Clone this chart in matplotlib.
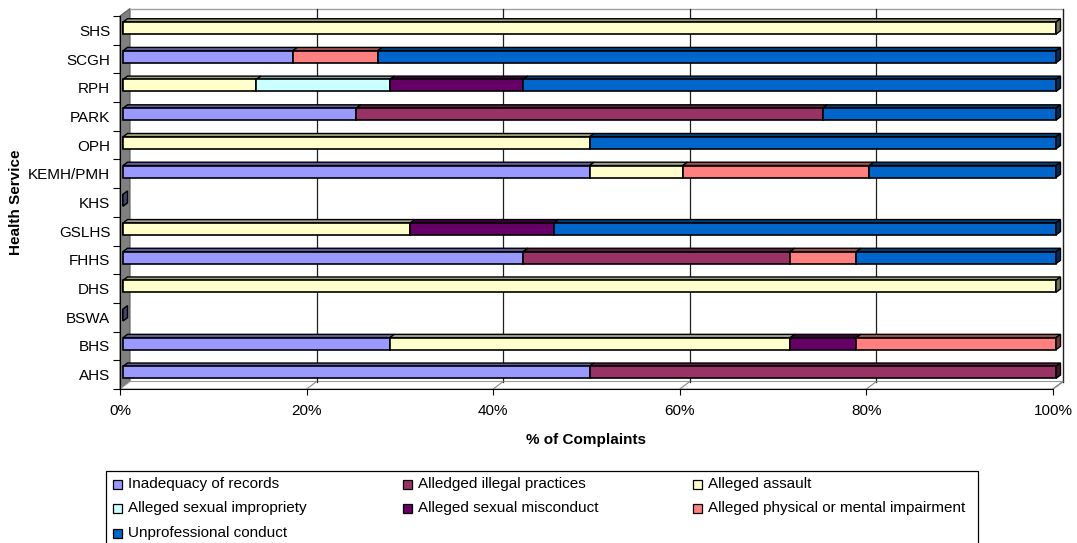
import numpy as np
import matplotlib
matplotlib.use("Agg")
import matplotlib.pyplot as plt
from matplotlib.patches import Polygon, Rectangle
from matplotlib.colors import to_rgb

plt.rcParams['font.family'] = ['Liberation Sans', 'DejaVu Sans']

# Health services, bottom to top
services = ["AHS", "BHS", "BSWA", "DHS", "FHHS", "GSLHS", "KHS",
            "KEMH/PMH", "OPH", "PARK", "RPH", "SCGH", "SHS"]

series_names = ["Inadequacy of records", "Alledged illegal practices", "Alleged assault",
                "Alleged sexual impropriety", "Alleged sexual misconduct",
                "Alleged physical or mental impairment", "Unprofessional conduct"]
series_colors = ["#9999FF", "#993366", "#FFFFCC", "#CCFFFF", "#660066", "#FF8080", "#0066CC"]

# Share of complaints (%) per service
records        = [50.0, 28.6, 0, 0,   42.9, 0,    0, 50.0, 0,    25.0, 0,    18.2, 0]
illegal        = [50.0, 0,    0, 0,   28.6, 0,    0, 0,    0,    50.0, 0,    0,    0]
assault        = [0,    42.9, 0, 100, 0,    30.8, 0, 10.0, 50.0, 0,    14.3, 0,    100]
impropriety    = [0,    0,    0, 0,   0,    0,    0, 0,    0,    0,    14.3, 0,    0]
misconduct     = [0,    7.1,  0, 0,   0,    15.4, 0, 0,    0,    0,    14.3, 0,    0]
impairment     = [0,    21.4, 0, 0,   7.1,  0,    0, 20.0, 0,    0,    0,    9.1,  0]
unprofessional = [0,    0,    0, 0,   21.4, 53.8, 0, 20.0, 50.0, 25.0, 57.1, 72.7, 0]

series = [records, illegal, assault, impropriety, misconduct, impairment, unprofessional]
x_ticks = [0, 20, 40, 60, 80, 100]
x_tick_labels = ["0%", "20%", "40%", "60%", "80%", "100%"]

W, H = 1077, 543
fig = plt.figure(figsize=(W / 100, H / 100), dpi=100)

# front plane of the 3-D box in pixels
px_left, px_right, px_top, px_bottom = 120, 1053, 16, 389
ax = fig.add_axes([px_left / W, 1 - px_bottom / H,
                   (px_right - px_left) / W, (px_bottom - px_top) / H])
n = len(services)
ax.set_xlim(0, 100)
ax.set_ylim(-0.5, n - 0.5)

xpp = 100.0 / (px_right - px_left)           # data x per pixel
ypp = n / float(px_bottom - px_top)           # data y per pixel
depth_dx, depth_dy = 10 * xpp, 7.5 * ypp      # full depth vector (to back wall)

def shade(c, f):
    r, g, b = to_rgb(c)
    return (r * f, g * f, b * f)

y0, y1 = -0.5, n - 0.5

# side wall
ax.add_patch(Polygon([(0, y0), (0, y1), (depth_dx, y1 + depth_dy), (depth_dx, y0 + depth_dy)],
                     closed=True, facecolor="#808080", edgecolor="#5a5a5a", lw=0.8,
                     clip_on=False, zorder=1))
# floor
ax.add_patch(Polygon([(0, y0), (100, y0), (100 + depth_dx, y0 + depth_dy), (depth_dx, y0 + depth_dy)],
                     closed=True, facecolor="white", edgecolor="#9a9a9a", lw=0.8,
                     clip_on=False, zorder=1))
# back wall frame
ax.plot([depth_dx, 100 + depth_dx, 100 + depth_dx], [y1 + depth_dy, y1 + depth_dy, y0 + depth_dy],
        color="#a0a0a0", lw=1, clip_on=False, zorder=1)
ax.plot([100, 100 + depth_dx], [y0, y0 + depth_dy], color="#a0a0a0", lw=1, clip_on=False, zorder=1)
# gridlines on back wall and across the floor
for xv in x_ticks[1:]:
    ax.plot([xv + depth_dx, xv + depth_dx], [y0 + depth_dy, y1 + depth_dy],
            color="#202020", lw=0.9, clip_on=False, zorder=1.5)
    ax.plot([xv, xv + depth_dx], [y0, y0 + depth_dy], color="#8a8a8a", lw=0.8,
            clip_on=False, zorder=1.5)

# bars: front faces drawn by barh, top and end faces from the same values
f0, f1 = 0.3, 0.75
bar_h = 12 * ypp
ox0, oy0 = f0 * depth_dx, f0 * depth_dy
odx, ody = (f1 - f0) * depth_dx, (f1 - f0) * depth_dy
ypos = np.arange(n) + oy0

lefts = np.zeros(n)
for vals, col in zip(series, series_colors):
    vals = np.asarray(vals, dtype=float)
    ax.barh(ypos, vals, left=lefts + ox0, height=bar_h, color=col,
            edgecolor="black", linewidth=1.2, clip_on=False, zorder=3)
    for i in range(n):
        if vals[i] <= 0:
            continue
        xl, xr = lefts[i] + ox0, lefts[i] + vals[i] + ox0
        yt = ypos[i] + bar_h / 2
        ax.add_patch(Polygon([(xl, yt), (xr, yt), (xr + odx, yt + ody), (xl + odx, yt + ody)],
                             closed=True, facecolor=shade(col, 0.62), edgecolor="black",
                             lw=1.0, clip_on=False, zorder=2.5))
    lefts = lefts + vals

# end faces at the right of each stack (zero-total rows show only the end face)
for i in range(n):
    vals_i = [s[i] for s in series]
    nz = [k for k, v in enumerate(vals_i) if v > 0]
    col = series_colors[nz[-1]] if nz else series_colors[0]
    xr = lefts[i] + ox0
    yb, yt = ypos[i] - bar_h / 2, ypos[i] + bar_h / 2
    ax.add_patch(Polygon([(xr, yb), (xr, yt), (xr + odx, yt + ody), (xr + odx, yb + ody)],
                         closed=True, facecolor=shade(col, 0.45), edgecolor="black",
                         lw=1.0, clip_on=False, zorder=3.5))

# axes lines and ticks
for s in ["top", "right"]:
    ax.spines[s].set_visible(False)
ax.spines["left"].set_color("black")
ax.spines["bottom"].set_color("black")
ax.spines["left"].set_zorder(2)
ax.patch.set_visible(False)

ax.set_xticks(x_ticks)
ax.set_xticklabels(x_tick_labels, fontsize=11)
ax.tick_params(axis="x", direction="out", length=4.5, width=0.8, pad=6)

ax.set_yticks(np.arange(n))
ax.set_yticklabels(services, fontsize=11)
ax.set_yticks(np.arange(-0.5, n, 1.0), minor=True)
ax.tick_params(axis="y", which="major", length=0, pad=7)
ax.tick_params(axis="y", which="minor", direction="out", length=5, width=0.8)

fig.text(586 / W, 1 - 440 / H, "% of Complaints", ha="center", va="center",
         fontsize=11, fontweight="bold")
fig.text(16 / W, 1 - 202 / H, "Health Service", ha="center", va="center",
         rotation=90, fontsize=11, fontweight="bold")

# legend box, three columns
def fx(px):
    return px / W

def fy(py):
    return 1 - py / H

fig.add_artist(Rectangle((fx(106), fy(560)), fx(978) - fx(106), fy(471) - fy(560),
                         transform=fig.transFigure, facecolor="white",
                         edgecolor="black", lw=0.9))
col_x = [113, 403, 693]
row_y = [484, 508, 533]
for k, (name, col) in enumerate(zip(series_names, series_colors)):
    r, c = divmod(k, 3)
    mx, my = col_x[c], row_y[r]
    fig.add_artist(Rectangle((fx(mx), fy(my + 4.5)), 9 / W, 9 / H,
                             transform=fig.transFigure, facecolor=col,
                             edgecolor="black", lw=0.9))
    fig.text(fx(mx + 15), fy(my), name, ha="left", va="center", fontsize=11)

fig.savefig("out.png", dpi=100)
